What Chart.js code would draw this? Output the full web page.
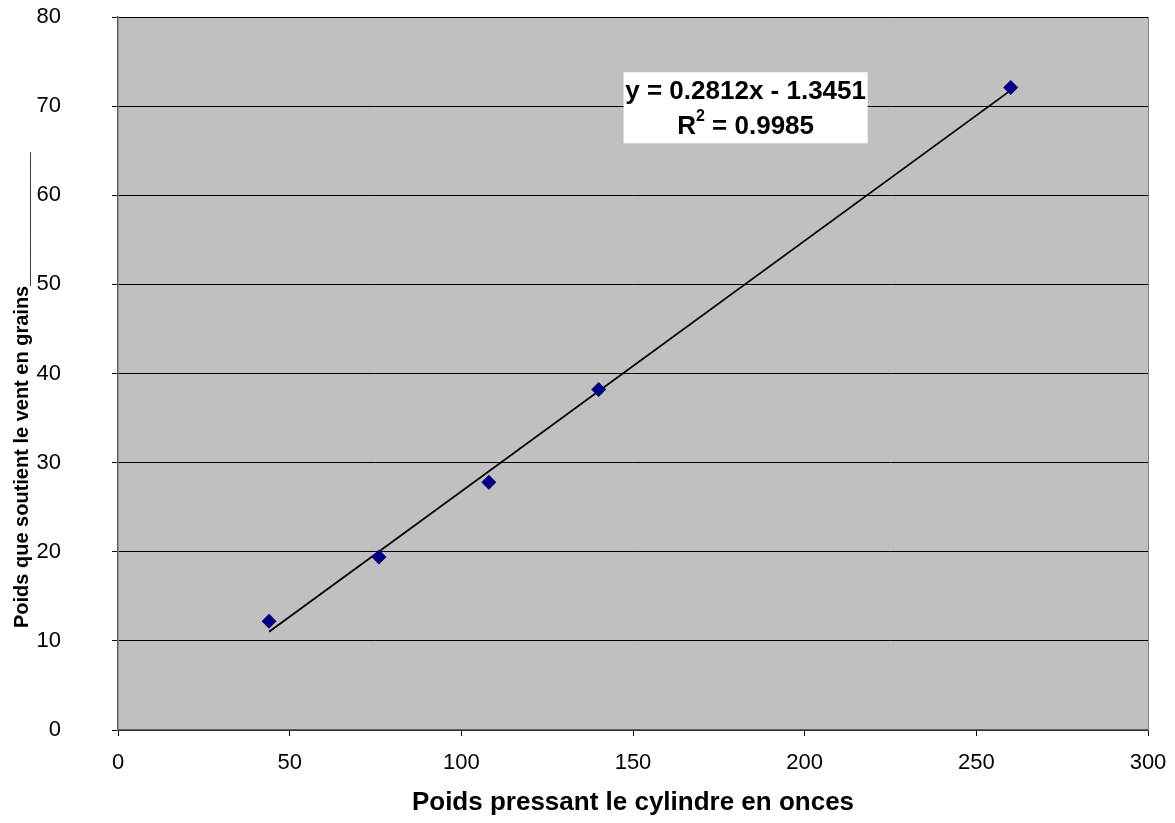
<!DOCTYPE html>
<html>
<head>
<meta charset="utf-8">
<script src="https://cdn.jsdelivr.net/npm/chart.js@4.4.1/dist/chart.umd.min.js"></script>
<style>
  html, body { margin: 0; padding: 0; background: #fff; }
  #wrap { width: 1175px; height: 823px; position: relative; }
</style>
</head>
<body>
<div id="wrap"><canvas id="c" width="1175" height="823"></canvas></div>
<script>
// ---- data ----
const xValues = [44, 76, 108, 140, 260];
const yValues = [12.2, 19.4, 27.8, 38.2, 72.1];
const trendSlope = 0.2812;
const trendIntercept = -1.3451;
const trendR2 = 0.9985;
const trendRange = [44, 260];
const xTickValues = [0, 50, 100, 150, 200, 250, 300];
const yTickValues = [0, 10, 20, 30, 40, 50, 60, 70, 80];
const xTitle = 'Poids pressant le cylindre en onces';
const yTitle = 'Poids que soutient le vent en grains____________      ';
const eqLine1 = 'y = 0.2812x - 1.3451';
const eqLine2 = ' = 0.9985';

const points = xValues.map((x, i) => ({ x: x, y: yValues[i] }));
const trendPoints = trendRange.map(x => ({ x: x, y: trendSlope * x + trendIntercept }));

const FONT = '"Liberation Sans", Arial, sans-serif';

const bgPlugin = {
  id: 'plotBg',
  beforeDraw(chart) {
    const { ctx, chartArea: a } = chart;
    ctx.save();
    ctx.fillStyle = '#C0C0C0';
    ctx.fillRect(a.left, a.top, a.right - a.left, a.bottom - a.top);
    ctx.restore();
  },
  afterDatasetsDraw(chart) {
    const { ctx, chartArea: a } = chart;
    ctx.save();
    // right border
    ctx.strokeStyle = '#808080';
    ctx.lineWidth = 1;
    ctx.beginPath();
    ctx.moveTo(a.right + 0.5, a.top);
    ctx.lineTo(a.right + 0.5, a.bottom);
    ctx.stroke();
    // equation box
    const xs = chart.scales.x, ys = chart.scales.y;
    const cx = xs.getPixelForValue(182.8);
    const top = ys.getPixelForValue(73.8);
    const w = 244, h = 71;
    ctx.fillStyle = '#ffffff';
    ctx.fillRect(cx - w / 2, top, w, h);
    ctx.fillStyle = '#000000';
    ctx.font = 'bold 26px ' + FONT;
    ctx.textAlign = 'center';
    ctx.textBaseline = 'middle';
    ctx.fillText(eqLine1, cx, top + 20);
    // second line: R^2 = ...
    const rW = ctx.measureText('R').width;
    const restW = ctx.measureText(eqLine2).width;
    ctx.font = 'bold 16px ' + FONT;
    const supW = ctx.measureText('2').width;
    const total = rW + supW + restW;
    let x0 = cx - total / 2;
    const y2 = top + 55;
    ctx.textAlign = 'left';
    ctx.font = 'bold 26px ' + FONT;
    ctx.fillText('R', x0, y2);
    ctx.font = 'bold 16px ' + FONT;
    ctx.fillText('2', x0 + rW, y2 - 11);
    ctx.font = 'bold 26px ' + FONT;
    ctx.fillText(eqLine2, x0 + rW + supW, y2);
    ctx.restore();
  }
};

new Chart(document.getElementById('c'), {
  type: 'scatter',
  data: {
    datasets: [
      {
        label: 'data',
        data: points,
        pointStyle: 'rectRot',
        pointRadius: 7.5,
        pointHoverRadius: 7.5,
        backgroundColor: '#000080',
        borderColor: '#000080',
        borderWidth: 0,
        order: 1
      },
      {
        label: 'trend',
        type: 'line',
        data: trendPoints,
        borderColor: '#000000',
        borderWidth: 1.8,
        pointRadius: 0,
        fill: false,
        order: 2
      }
    ]
  },
  options: {
    responsive: false,
    animation: false,
    devicePixelRatio: 1,
    layout: { padding: { left: 0, top: 17, right: 27, bottom: 0 } },
    plugins: { legend: { display: false }, tooltip: { enabled: false } },
    scales: {
      x: {
        type: 'linear',
        min: 0, max: 300,
        afterBuildTicks(scale) { scale.ticks = xTickValues.map(v => ({ value: v })); },
        afterFit(scale) { scale.height = 93; scale.paddingLeft = 0; scale.paddingRight = 0; },
        border: { display: true, color: '#606060', width: 1.5 },
        grid: { drawOnChartArea: false, drawTicks: true, tickLength: 6, tickColor: '#000000', tickWidth: 1 },
        ticks: { color: '#000', font: { family: FONT, size: 22 }, padding: 14, maxRotation: 0 },
        title: { display: true, text: xTitle, color: '#000', font: { family: FONT, size: 26, weight: 'bold' }, padding: { top: 0, bottom: 5 } }
      },
      y: {
        type: 'linear',
        min: 0, max: 80,
        afterBuildTicks(scale) { scale.ticks = yTickValues.map(v => ({ value: v })); },
        afterFit(scale) { scale.width = 118; scale.paddingTop = 0; scale.paddingBottom = 0; },
        border: { display: true, color: '#606060', width: 1.5 },
        grid: { color: '#000000', lineWidth: 1, drawTicks: true, tickLength: 6, tickColor: '#000000' },
        ticks: { color: '#000', font: { family: FONT, size: 22 }, padding: 51 },
        title: { display: true, text: yTitle, color: '#000', font: { family: FONT, size: 20, weight: 'bold' }, padding: { top: 10, bottom: 0 } }
      }
    }
  },
  plugins: [bgPlugin]
});
</script>
</body>
</html>
